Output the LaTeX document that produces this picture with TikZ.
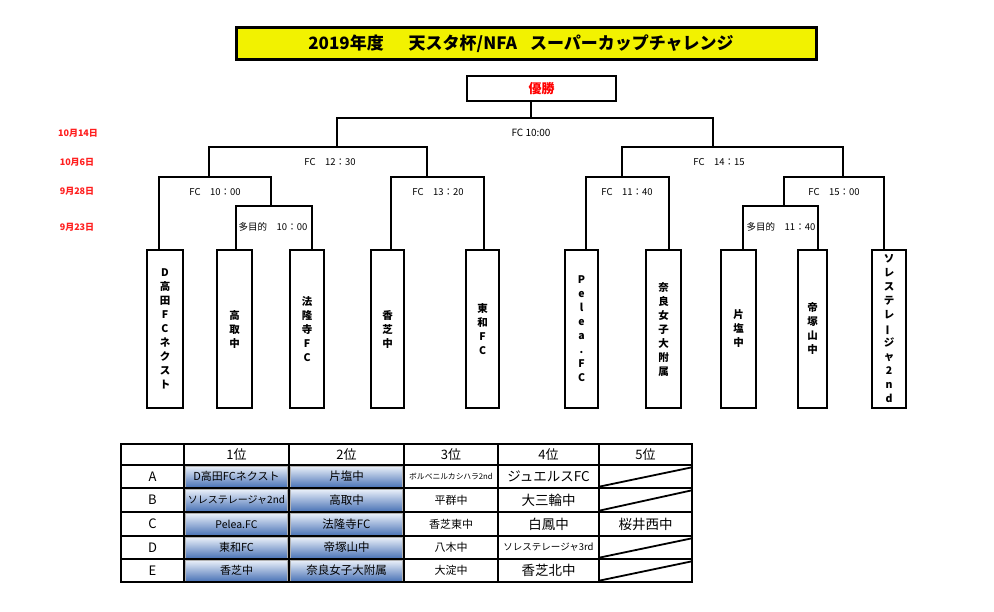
\documentclass[tikz,border=0pt]{standalone}
\usepackage{fontspec}
\usepackage{graphicx}
\setmainfont{Noto Sans CJK JP}
\definecolor{titleyellow}{RGB}{242,242,0}
\definecolor{datered}{RGB}{255,30,30}
\definecolor{celltop}{RGB}{234,240,249}
\definecolor{cellbot}{RGB}{78,118,184}
\newcommand{\fsz}[1]{\fontsize{#1}{#1}\selectfont}
\newcommand{\vbar}{\rotatebox[origin=c]{90}{ー}}
\begin{document}
\begin{tikzpicture}[x=1pt,y=-1pt,
  bline/.style={line width=1.8pt},
  teambox/.style={draw,line width=2.4pt,minimum width=34pt,minimum height=157.6pt,
    inner sep=0pt,align=center,font=\bfseries\fontsize{10.5}{14}\selectfont},
  matchlbl/.style={font=\fsz{9.5},inner sep=0pt},
  datelbl/.style={font=\bfseries\fsz{9},text=datered,inner sep=0pt},
  hdr/.style={font=\fsz{13},inner sep=0pt},
  cell/.style={font=\fsz{11},inner sep=0pt},
  big/.style={font=\fsz{13.5},inner sep=0pt},
  gradcell/.style={top color=celltop,bottom color=cellbot,draw=gray!60,line width=0.5pt}
]
\useasboundingbox (0,0) rectangle (994,611);

% title
\node[draw,line width=3pt,fill=titleyellow,minimum width=580pt,minimum height=32pt,inner sep=0pt]
  (title) at (526.5,43.5) {};
\node[font=\bfseries\fsz{17},inner sep=0pt] (titletext) at (521,43.5)
  {2019年度\hspace{25pt}天スタ杯/NFA\hspace{13pt}スーパーカップチャレンジ};

% winner
\node[draw,line width=2.4pt,minimum width=148.6pt,minimum height=24.6pt,inner sep=0pt,
  font=\bfseries\fsz{13},text=red] (winner) at (541.5,88.5) {優勝};

% dates
\node[datelbl] (d1) at (78,133) {10月14日};
\node[datelbl] (d2) at (77,162) {10月6日};
\node[datelbl] (d3) at (77,191) {9月28日};
\node[datelbl] (d4) at (77,227) {9月23日};

% teams
\node[teambox,minimum width=35.6pt] (t1) at (165,329) {D\\高\\田\\F\\C\\ネ\\ク\\ス\\ト};
\node[teambox,minimum width=34.6pt] (t2) at (234.5,329) {高\\取\\中};
\node[teambox,minimum width=33.6pt] (t3) at (307,329) {法\\隆\\寺\\F\\C};
\node[teambox,minimum width=32.6pt] (t4) at (387.5,329) {香\\芝\\中};
\node[teambox,minimum width=32.6pt] (t5) at (482.5,329) {東\\和\\F\\C};
\node[teambox,minimum width=32.6pt] (t6) at (581.5,329) {P\\e\\l\\e\\a\\.\\F\\C};
\node[teambox,minimum width=34.6pt] (t7) at (663.5,329) {奈\\良\\女\\子\\大\\附\\属};
\node[teambox,minimum width=34.6pt] (t8) at (738.5,329) {片\\塩\\中};
\node[teambox,minimum width=29pt] (t9) at (812.5,329) {帝\\塚\\山\\中};
\node[teambox,minimum width=33.6pt] (t10) at (889,329) {ソ\\レ\\ス\\テ\\レ\\\vbar\\ジ\\ャ\\2\\n\\d};

% connection points on team boxes
\coordinate (c1) at (t1.north -| 159,0);
\coordinate (c2) at (t2.north -| 236,0);
\coordinate (c3) at (t3.north -| 312,0);
\coordinate (c4) at (t4.north -| 391,0);
\coordinate (c5) at (t5.north -| 484,0);
\coordinate (c6) at (t6.north -| 586,0);
\coordinate (c7) at (t7.north -| 669,0);
\coordinate (c8) at (t8.north -| 743,0);
\coordinate (c9) at (t9.north -| 818,0);
\coordinate (c10) at (t10.north -| 884,0);

% match junctions
\coordinate (m1) at (531,118);
\coordinate (m2L) at (337,147);
\coordinate (m2R) at (713,147);
\coordinate (m3LL) at (209,177);
\coordinate (m3LR) at (427,177);
\coordinate (m3RL) at (622,177);
\coordinate (m3RR) at (843,177);
\coordinate (m4L) at (271,206);
\coordinate (m4R) at (784,206);

% bracket
\draw[bline] (c2) |- (m4L) -| (c3);
\draw[bline] (c1) |- (m3LL) -| (m4L);
\draw[bline] (c4) |- (m3LR) -| (c5);
\draw[bline] (m3LL) |- (m2L) -| (m3LR);
\draw[bline] (c6) |- (m3RL) -| (c7);
\draw[bline] (c8) |- (m4R) -| (c9);
\draw[bline] (m4R) |- (m3RR) -| (c10);
\draw[bline] (m3RL) |- (m2R) -| (m3RR);
\draw[bline] (m2L) |- (m1) -| (m2R);
\draw[bline] (winner.south -| m1) -- (m1);

% match labels
\node[matchlbl,font=\fsz{10}] (l1) at (531,133) {FC 10:00};
\node[matchlbl] (l2L) at (330,162) {FC　12：30};
\node[matchlbl] (l2R) at (719,162) {FC　14：15};
\node[matchlbl] (l3LL) at (215,192) {FC　10：00};
\node[matchlbl] (l3LR) at (438,192) {FC　13：20};
\node[matchlbl] (l3RL) at (627,192) {FC　11：40};
\node[matchlbl] (l3RR) at (834,192) {FC　15：00};
\node[matchlbl] (l4L) at (273,227) {多目的　10：00};
\node[matchlbl] (l4R) at (781,227) {多目的　11：40};

% ---------- table ----------
% gradient cells
\foreach \ya/\yb in {465/488,488/512,512/536,536/559,559/582}{
  \shade[gradcell] (185.5,\ya+1.2) rectangle (287.5,\yb-1.2);
  \shade[gradcell] (290.5,\ya+1.2) rectangle (402.5,\yb-1.2);
}
% diagonals in 5th column
\foreach \ya/\yb in {465/488,488/512,536/559,559/582}{
  \draw[line width=1.8pt] (600,\yb-1.5) -- (691,\ya+2.5);
}
% grid
\foreach \y in {465,488,512,536,559}{
  \draw[line width=1.6pt] (121,\y) -- (692,\y);
}
\foreach \x in {184,289,404,498,599}{
  \draw[line width=1.6pt] (\x,444) -- (\x,582);
}
\draw[line width=2.8pt] (121,444) rectangle (692,582);

% header
\node[hdr] (h1) at (236.5,454.5) {1位};
\node[hdr] (h2) at (346.5,454.5) {2位};
\node[hdr] (h3) at (451,454.5) {3位};
\node[hdr] (h4) at (548.5,454.5) {4位};
\node[hdr] (h5) at (645.5,454.5) {5位};
% row labels
\node[hdr] (rA) at (152.5,476.5) {A};
\node[hdr] (rB) at (152.5,500) {B};
\node[hdr] (rC) at (152.5,524) {C};
\node[hdr] (rD) at (152.5,547.5) {D};
\node[hdr] (rE) at (152.5,570.5) {E};
% row A
\node[cell] (a1) at (236.5,476.5) {D高田FCネクスト};
\node[cell,font=\fsz{11.5}] (a2) at (346.5,476.5) {片塩中};
\node[cell,font=\fsz{7.8}] (a3) at (451,476.5) {ボルベニルカシハラ2nd};
\node[big] (a4) at (548.5,476.5) {ジュエルスFC};
% row B
\node[cell,font=\fsz{10}] (b1) at (236.5,500) {ソレステレージャ2nd};
\node[cell,font=\fsz{11.5}] (b2) at (346.5,500) {高取中};
\node[cell] (b3) at (451,500) {平群中};
\node[big] (b4) at (548.5,500) {大三輪中};
% row C
\node[cell,font=\fsz{10.5}] (cc1) at (236.5,524) {Pelea.FC};
\node[cell,font=\fsz{11.5}] (cc2) at (346.5,524) {法隆寺FC};
\node[cell] (cc3) at (451,524) {香芝東中};
\node[big] (cc4) at (548.5,524) {白鳳中};
\node[big] (cc5) at (645.5,524) {桜井西中};
% row D
\node[cell] (dd1) at (236.5,547.5) {東和FC};
\node[cell,font=\fsz{11.5}] (dd2) at (346.5,547.5) {帝塚山中};
\node[cell] (dd3) at (451,547.5) {八木中};
\node[cell,font=\fsz{9.5}] (dd4) at (548.5,547.5) {ソレステレージャ3rd};
% row E
\node[cell] (e1) at (236.5,570.5) {香芝中};
\node[cell,font=\fsz{11.5}] (e2) at (346.5,570.5) {奈良女子大附属};
\node[cell] (e3) at (451,570.5) {大淀中};
\node[big] (e4) at (548.5,570.5) {香芝北中};
\end{tikzpicture}
\end{document}
